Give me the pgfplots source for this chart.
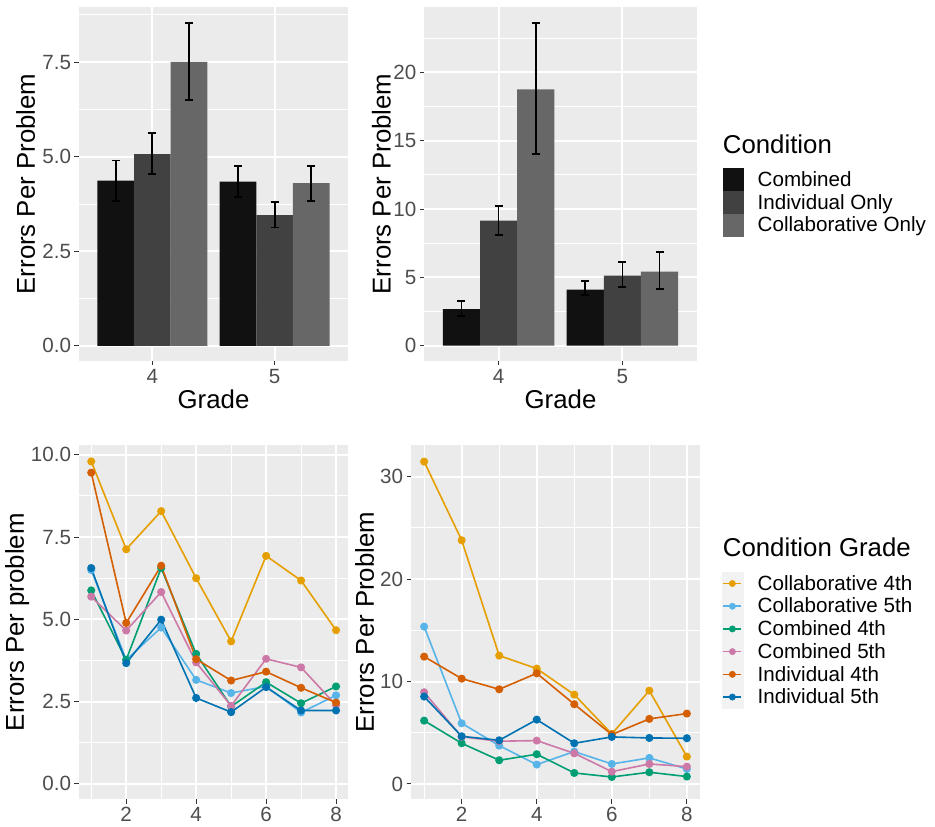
\documentclass[border=0pt]{standalone}
\usepackage{fontspec}
\setmainfont{Liberation Sans}
\usepackage{pgfplots}
\pgfplotsset{compat=1.18}

\definecolor{panel}{HTML}{EBEBEB}
\definecolor{keybg}{HTML}{F2F2F2}
\definecolor{tickgray}{HTML}{333333}
\definecolor{labgray}{HTML}{4D4D4D}
\definecolor{cComb}{HTML}{111111}
\definecolor{cIndiv}{HTML}{414141}
\definecolor{cColl}{HTML}{676767}
\definecolor{oOrange}{HTML}{E69F00}
\definecolor{oSky}{HTML}{56B4E9}
\definecolor{oGreen}{HTML}{009E73}
\definecolor{oPink}{HTML}{CC79A7}
\definecolor{oVerm}{HTML}{D55E00}
\definecolor{oBlue}{HTML}{0072B2}

\newcommand{\ticksize}{\fontsize{20.6}{24}\selectfont}
\newcommand{\titlesize}{\fontsize{25.8}{30}\selectfont}

% legend keys
\newcommand{\barkey}[1]{\addlegendimage{legend image code/.code={\fill[#1] (0pt,-11.25pt) rectangle (20pt,11.25pt);}}}
\newcommand{\linekey}[1]{\addlegendimage{legend image code/.code={%
  \fill[keybg] (0pt,-11.15pt) rectangle (21pt,11.15pt);
  \draw[#1,line width=1.6pt] (1.5pt,0pt) -- (19.5pt,0pt);
  \fill[#1] (10.5pt,0pt) circle (3.2pt);}}}

\pgfplotsset{
  gg/.style={
    scale only axis, anchor=south west, clip=false,
    axis background/.style={fill=panel},
    axis line style={draw=none},
    tick pos=left, tick align=outside,
    major tick length=4.5pt, minor tick length=0pt,
    every tick/.style={tickgray, line width=1pt},
    grid=both,
    major grid style={white, line width=2pt},
    minor grid style={white, line width=1pt},
    tick label style={font=\ticksize, text=labgray},
    /pgf/number format/assume math mode=true,
    every axis y label/.style={rotate=90, anchor=north, inner sep=0pt, font=\titlesize},
    every axis x label/.style={at={(axis description cs:0.5,-0.1328)}, anchor=base, inner sep=0pt, font=\titlesize},
    legend cell align=left,
  },
  ggleg/.style={
    legend style={draw=none, fill=none, inner sep=0pt, outer sep=0pt,
      row sep=0pt, column sep=14.6pt, font=\ticksize,
      nodes={inner sep=0pt}},
  },
  barax/.style={ybar, bar width=0.3, xmin=3.4, xmax=5.6, xtick={4,5}, xlabel={Grade}},
  eb/.style={error bars/.cd, y dir=both, y explicit,
    error bar style={draw=black, line width=1.8pt},
    error mark options={draw=black, line width=1.8pt, mark size=4pt, rotate=90}},
  ln/.style={#1, line width=1.6pt, mark=*, mark size=3.2pt, mark options={draw=none}},
  lineax/.style={xmin=0.65, xmax=8.35, xtick={2,4,6,8}, minor xtick={1,3,5,7}},
}

\begin{document}
\begin{tikzpicture}
\useasboundingbox (0pt,0pt) rectangle (935pt,827pt);

% top left: bars, grade 4/5
\begin{axis}[gg, barax, at={(79pt,466pt)}, width=269pt, height=354pt,
  ymin=-0.40, ymax=8.96,
  ytick={0,2.5,5,7.5}, yticklabels={0.0,2.5,5.0,7.5},
  minor ytick={1.25,3.75,6.25,8.75},
  ylabel={Errors Per Problem},
  every axis y label/.append style={at={(axis description cs:-0.234,0.5)}},
]
\addplot[fill=cComb, draw=none, bar shift=-0.3, forget plot, eb] coordinates {
  (4,4.37) += (0,0.53) -= (0,0.53)
  (5,4.34) += (0,0.42) -= (0,0.40)};
\addplot[fill=cIndiv, draw=none, bar shift=0, forget plot, eb] coordinates {
  (4,5.07) += (0,0.55) -= (0,0.53)
  (5,3.46) += (0,0.35) -= (0,0.33)};
\addplot[fill=cColl, draw=none, bar shift=0.3, forget plot, eb] coordinates {
  (4,7.51) += (0,1.03) -= (0,1.00)
  (5,4.30) += (0,0.46) -= (0,0.46)};
\end{axis}

% top right: bars
\begin{axis}[gg, barax, ggleg, at={(424.3pt,466pt)}, width=272.4pt, height=354pt,
  ymin=-1.12, ymax=24.78,
  ytick={0,5,10,15,20}, minor ytick={2.5,7.5,12.5,17.5,22.5},
  ylabel={Errors Per Problem},
  every axis y label/.append style={at={(axis description cs:-0.193,0.5)}},
  legend style={at={(axis description cs:1.0955,0.5452)}, anchor=north west},
]
\addplot[fill=cComb, draw=none, bar shift=-0.3, forget plot, eb] coordinates {
  (4,2.68) += (0,0.59) -= (0,0.51)
  (5,4.10) += (0,0.63) -= (0,0.41)};
\addplot[fill=cIndiv, draw=none, bar shift=0, forget plot, eb] coordinates {
  (4,9.15) += (0,1.09) -= (0,1.05)
  (5,5.12) += (0,0.98) -= (0,0.85)};
\addplot[fill=cColl, draw=none, bar shift=0.3, forget plot, eb] coordinates {
  (4,18.75) += (0,4.88) -= (0,4.75)
  (5,5.41) += (0,1.42) -= (0,1.28)};
\barkey{cComb}
\barkey{cIndiv}
\barkey{cColl}
\legend{Combined, Individual Only, Collaborative Only}
\node[anchor=base west, inner sep=0pt, font=\titlesize] at (axis description cs:1.0955,0.5867) {Condition};
\end{axis}

% bottom left: lines
\begin{axis}[gg, lineax, at={(79pt,27.7pt)}, width=269.3pt, height=354.3pt,
  ymin=-0.47, ymax=10.30,
  ytick={0,2.5,5,7.5,10}, yticklabels={0.0,2.5,5.0,7.5,10.0},
  minor ytick={1.25,3.75,6.25,8.75},
  ylabel={Errors Per problem},
  every axis y label/.append style={at={(axis description cs:-0.275,0.5)}},
]
\addplot[ln=oOrange] coordinates {(1,9.80) (2,7.13) (3,8.29) (4,6.25) (5,4.33) (6,6.93) (7,6.18) (8,4.67)};
\addplot[ln=oSky] coordinates {(1,6.50) (2,3.77) (3,4.75) (4,3.16) (5,2.76) (6,2.96) (7,2.17) (8,2.69)};
\addplot[ln=oGreen] coordinates {(1,5.88) (2,3.77) (3,6.56) (4,3.95) (5,2.35) (6,3.09) (7,2.45) (8,2.96)};
\addplot[ln=oPink] coordinates {(1,5.69) (2,4.66) (3,5.83) (4,3.69) (5,2.37) (6,3.80) (7,3.54) (8,2.39)};
\addplot[ln=oVerm] coordinates {(1,9.46) (2,4.89) (3,6.63) (4,3.79) (5,3.14) (6,3.41) (7,2.92) (8,2.47)};
\addplot[ln=oBlue] coordinates {(1,6.56) (2,3.67) (3,4.99) (4,2.61) (5,2.18) (6,2.94) (7,2.23) (8,2.23)};
\end{axis}

% bottom right: lines
\begin{axis}[gg, lineax, ggleg, at={(411pt,27.7pt)}, width=289pt, height=354.3pt,
  ymin=-1.50, ymax=33.09,
  ytick={0,10,20,30}, minor ytick={5,15,25},
  ylabel={Errors Per Problem},
  every axis y label/.append style={at={(axis description cs:-0.194,0.5)}},
  legend style={at={(axis description cs:1.0751,0.641)}, anchor=north west},
]
\addplot[ln=oOrange, forget plot] coordinates {(1,31.47) (2,23.79) (3,12.53) (4,11.26) (5,8.72) (6,4.88) (7,9.11) (8,2.67)};
\addplot[ln=oSky, forget plot] coordinates {(1,15.36) (2,5.92) (3,3.74) (4,1.89) (5,3.16) (6,1.95) (7,2.54) (8,1.46)};
\addplot[ln=oGreen, forget plot] coordinates {(1,6.18) (2,3.97) (3,2.31) (4,2.90) (5,1.07) (6,0.68) (7,1.14) (8,0.72)};
\addplot[ln=oPink, forget plot] coordinates {(1,8.95) (2,4.60) (3,4.17) (4,4.23) (5,2.99) (6,1.20) (7,1.95) (8,1.69)};
\addplot[ln=oVerm, forget plot] coordinates {(1,12.43) (2,10.28) (3,9.24) (4,10.80) (5,7.78) (6,4.82) (7,6.35) (8,6.87)};
\addplot[ln=oBlue, forget plot] coordinates {(1,8.53) (2,4.65) (3,4.26) (4,6.28) (5,3.97) (6,4.59) (7,4.49) (8,4.46)};
\linekey{oOrange}
\linekey{oSky}
\linekey{oGreen}
\linekey{oPink}
\linekey{oVerm}
\linekey{oBlue}
\legend{Collaborative 4th, Collaborative 5th, Combined 4th, Combined 5th, Individual 4th, Individual 5th}
\node[anchor=base west, inner sep=0pt, font=\titlesize] at (axis description cs:1.0785,0.6847) {Condition Grade};
\end{axis}
\end{tikzpicture}
\end{document}
